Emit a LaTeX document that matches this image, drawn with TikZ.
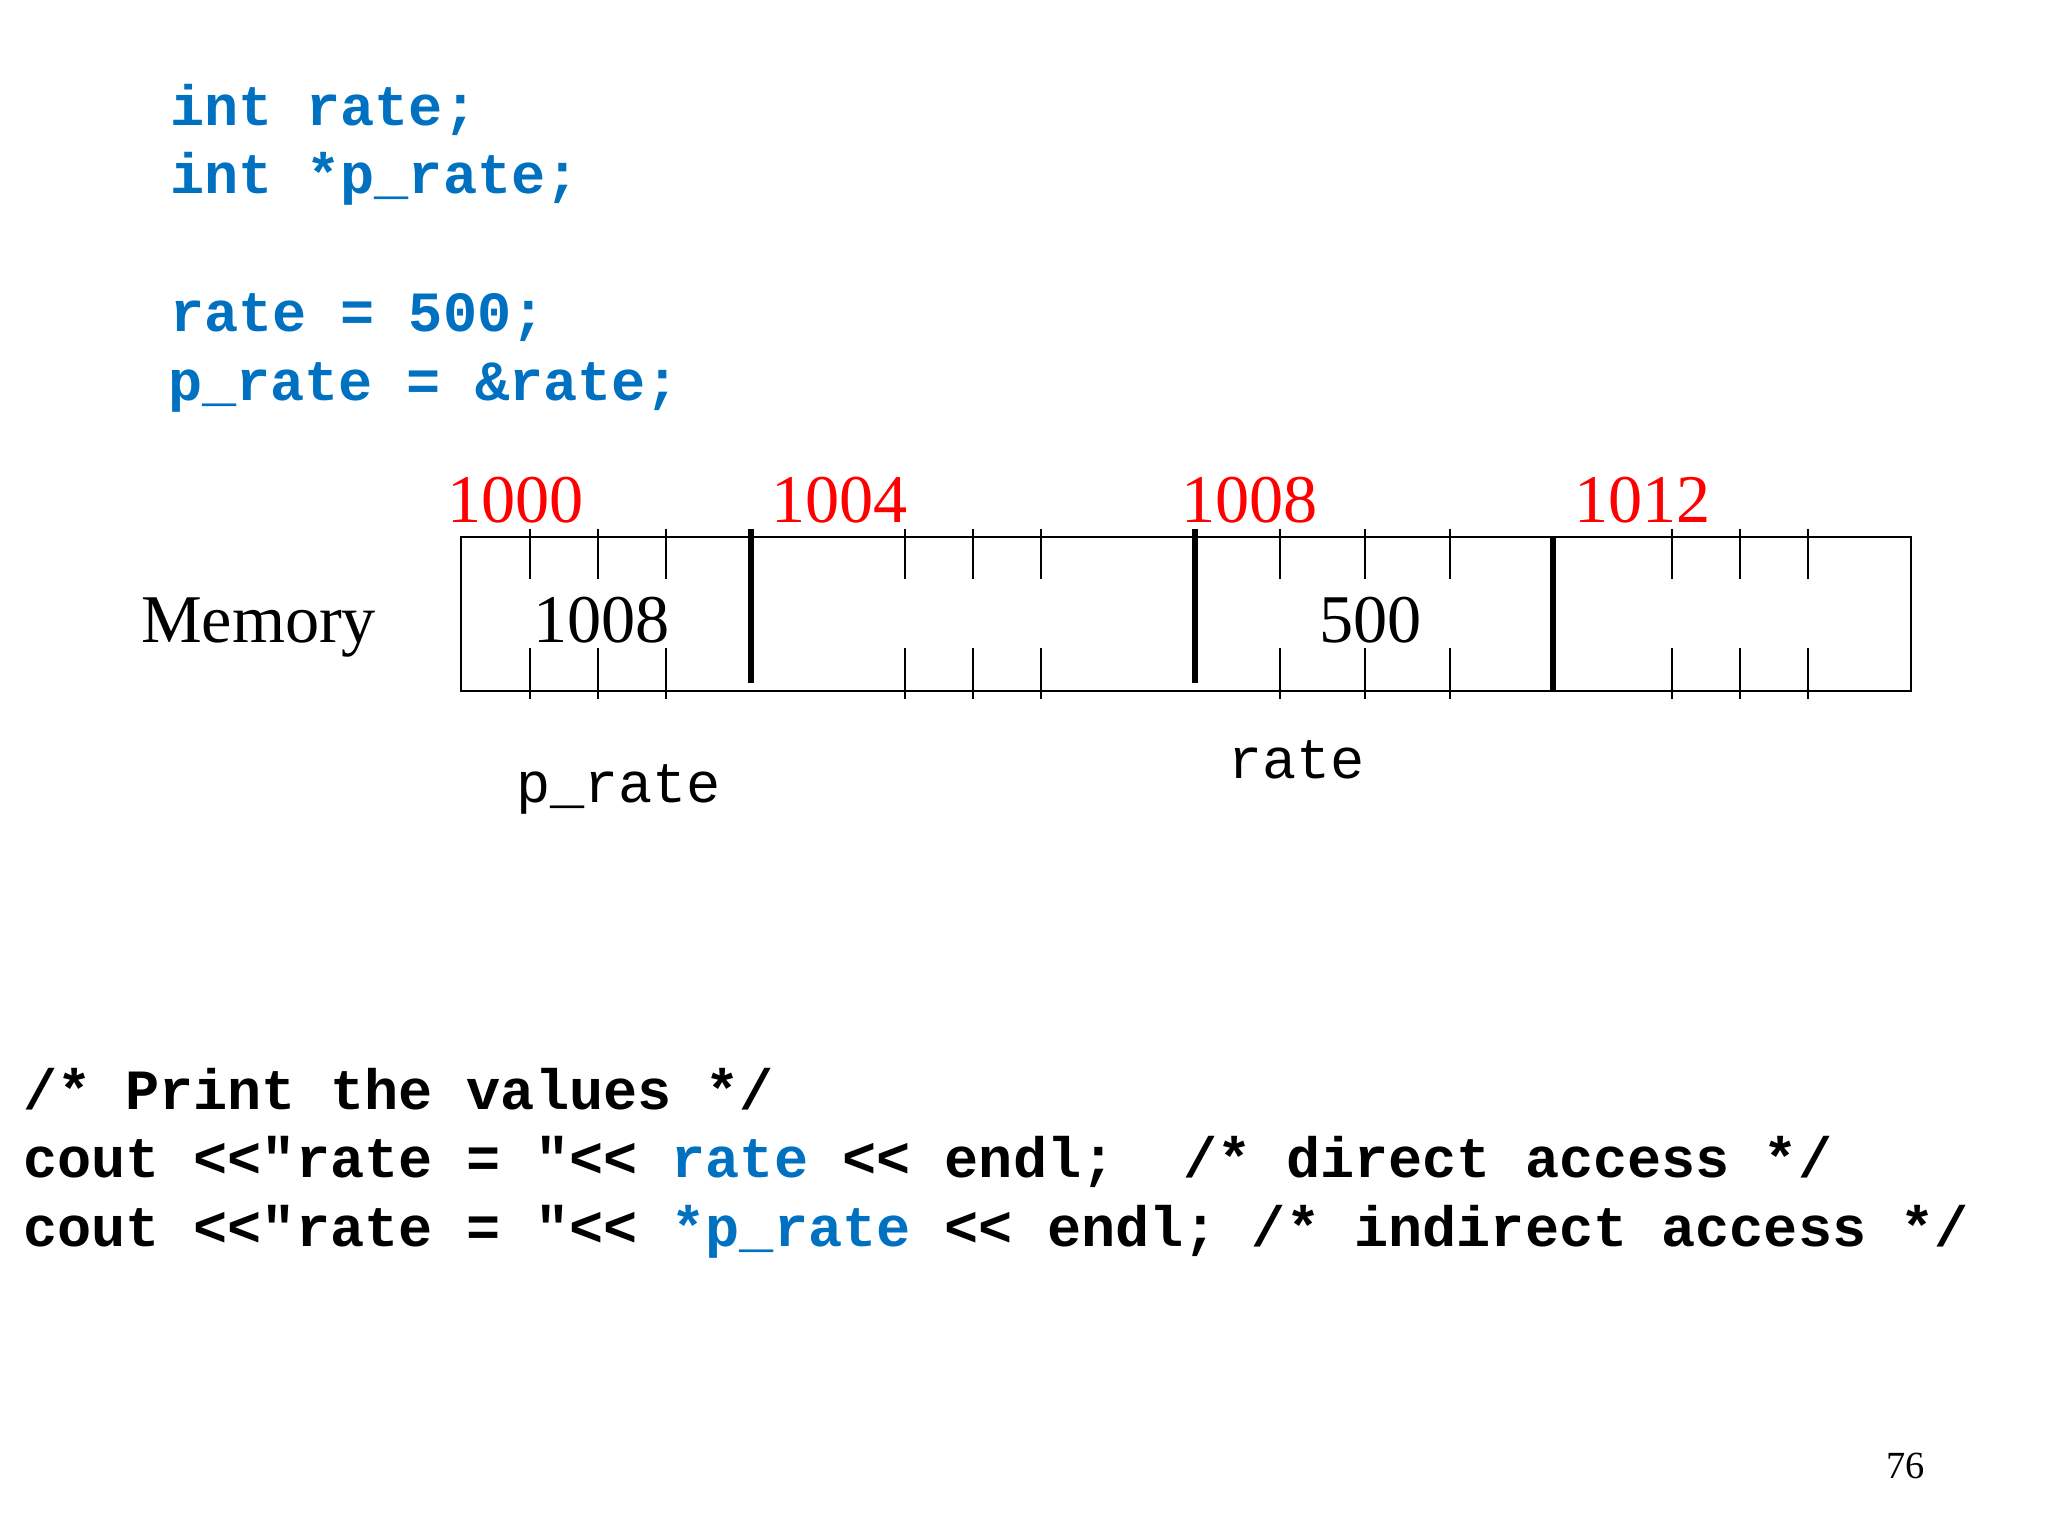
\documentclass[tikz,border=0pt]{standalone}
\usepackage{fontspec}
\setmainfont{Liberation Serif}
\setmonofont{Liberation Mono}
\definecolor{codeblue}{RGB}{0,112,192}
\definecolor{addrred}{RGB}{255,0,0}
\begin{document}
\begin{tikzpicture}[x=0.3515625pt,y=-0.3515625pt,
  txt/.style={inner sep=0pt, outer sep=0pt, anchor=base west},
  code/.style={txt, font=\fontsize{20}{24}\selectfont\ttfamily\bfseries},
  bluecode/.style={code, text=codeblue},
  addr/.style={txt, text=addrred, font=\fontsize{24}{28}\selectfont},
  val/.style={txt, font=\fontsize{24}{28}\selectfont},
  varlbl/.style={txt, font=\fontsize{20}{24}\selectfont\ttfamily},
  pagenum/.style={txt, font=\fontsize{13.5}{16}\selectfont},
  tickline/.style={line width=0.55pt},
  divider/.style={line width=1.8pt},
  cellbox/.style={draw, line width=0.6pt}]
\useasboundingbox (0,0) rectangle (2048,1536);

% top code
\node[bluecode] (c1) at (170,126) {int rate;};
\node[bluecode] (c2) at (170,194) {int *p\_rate;};
\node[bluecode] (c3) at (170,332) {rate = 500;};
\node[bluecode] (c4) at (168,401) {p\_rate = \&rate;};

% addresses
\node[addr] (a1000) at (447,523) {1000};
\node[addr] (a1004) at (771,523) {1004};
\node[addr] (a1008) at (1181,523) {1008};
\node[addr] (a1012) at (1574,523) {1012};

% memory box
\coordinate (boxNW) at (461,537);
\coordinate (boxSE) at (1911,691);
\draw[cellbox] (boxNW) rectangle (boxSE);
\foreach \x in {530,598,666,905,973,1041,1280,1365,1450,1672,1740,1808} {
  \draw[tickline] (\x,529) -- (\x,579);
  \draw[tickline] (\x,648) -- (\x,699);
}
\coordinate (d1t) at (751,529);  \coordinate (d1b) at (751,683);
\coordinate (d2t) at (1195,529); \coordinate (d2b) at (1195,683);
\coordinate (d3t) at (1553,537); \coordinate (d3b) at (1553,691);
\draw[divider] (d1t) -- (d1b);
\draw[divider] (d2t) -- (d2b);
\draw[divider] (d3t) -- (d3b);

\node[val] (mem) at (141,642) {Memory};
\node[val] (v1008) at (533,643) {1008};
\node[val] (v500) at (1319,643) {500};

\node[varlbl] (lp) at (516,802) {p\_rate};
\node[varlbl] (lr) at (1228,778) {rate};

% bottom code
\node[code] (b1) at (23,1109) {/* Print the values */};
\node[code] (b2) at (23,1177) {cout <<"rate = "<< \textcolor{codeblue}{rate} << endl;\ \ /* direct access */};
\node[code] (b3) at (23,1246) {cout <<"rate = "<< \textcolor{codeblue}{*p\_rate} << endl; /* indirect access */};

\node[pagenum] (pg) at (1886,1478) {76};
\end{tikzpicture}
\end{document}
